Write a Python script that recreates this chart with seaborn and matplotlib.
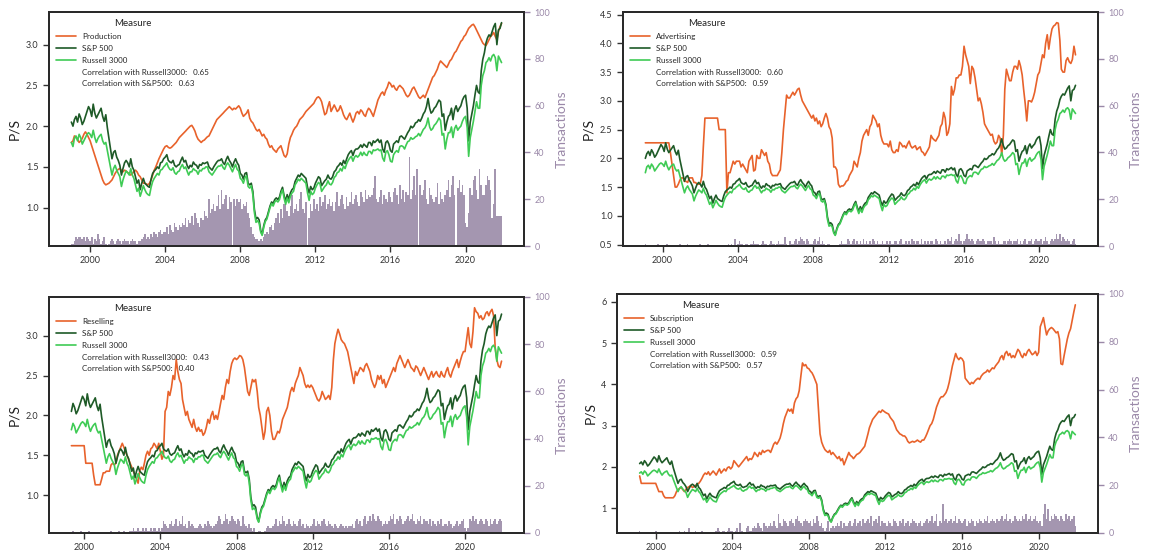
import pandas as pd
import matplotlib
matplotlib.use("Agg")
import matplotlib.pyplot as plt
import matplotlib.dates as mdates
from matplotlib.lines import Line2D
import seaborn as sns

# --- P/S of the two benchmark indices, monthly from 1999-01 to 2021-12 ---
SP500 = [
    2.05, 2.00, 2.08, 2.12, 2.05, 2.15, 2.10, 2.02, 2.06, 2.12, 2.18, 2.24,
    2.20, 2.12, 2.27, 2.16, 2.10, 2.14, 2.18, 2.22, 2.12, 2.06, 2.14, 1.98,
    1.85, 1.72, 1.60, 1.68, 1.70, 1.62, 1.58, 1.52, 1.40, 1.48, 1.55, 1.58,
    1.55, 1.50, 1.60, 1.50, 1.46, 1.38, 1.30, 1.34, 1.22, 1.30, 1.36, 1.30,
    1.28, 1.26, 1.25, 1.35, 1.42, 1.45, 1.47, 1.50, 1.48, 1.55, 1.56, 1.60,
    1.62, 1.65, 1.58, 1.56, 1.55, 1.58, 1.52, 1.50, 1.52, 1.53, 1.58, 1.62,
    1.56, 1.58, 1.52, 1.48, 1.52, 1.50, 1.56, 1.53, 1.52, 1.48, 1.53, 1.52,
    1.55, 1.54, 1.55, 1.56, 1.50, 1.48, 1.46, 1.50, 1.53, 1.56, 1.58, 1.58,
    1.60, 1.55, 1.53, 1.59, 1.63, 1.58, 1.55, 1.50, 1.56, 1.60, 1.55, 1.52,
    1.42, 1.40, 1.35, 1.42, 1.43, 1.30, 1.28, 1.30, 1.20, 0.98, 0.86, 0.88,
    0.85, 0.72, 0.67, 0.78, 0.85, 0.88, 0.95, 1.02, 1.07, 1.05, 1.10, 1.12,
    1.10, 1.13, 1.20, 1.25, 1.15, 1.08, 1.16, 1.10, 1.18, 1.22, 1.24, 1.32,
    1.36, 1.40, 1.38, 1.42, 1.40, 1.38, 1.36, 1.25, 1.18, 1.26, 1.22, 1.24,
    1.30, 1.34, 1.38, 1.36, 1.27, 1.30, 1.33, 1.35, 1.40, 1.36, 1.35, 1.38,
    1.44, 1.46, 1.50, 1.52, 1.55, 1.52, 1.58, 1.54, 1.60, 1.65, 1.68, 1.70,
    1.64, 1.70, 1.72, 1.72, 1.74, 1.77, 1.74, 1.78, 1.76, 1.74, 1.80, 1.80,
    1.76, 1.82, 1.80, 1.82, 1.84, 1.80, 1.83, 1.72, 1.68, 1.80, 1.82, 1.78,
    1.70, 1.68, 1.78, 1.80, 1.82, 1.80, 1.87, 1.88, 1.86, 1.84, 1.88, 1.92,
    1.95, 2.00, 1.98, 2.00, 2.04, 2.05, 2.08, 2.06, 2.10, 2.15, 2.18, 2.24,
    2.34, 2.22, 2.16, 2.18, 2.22, 2.24, 2.28, 2.32, 2.30, 2.12, 2.15, 1.95,
    2.05, 2.12, 2.14, 2.22, 2.08, 2.20, 2.25, 2.18, 2.22, 2.25, 2.32, 2.36,
    2.38, 2.22, 1.82, 2.05, 2.15, 2.25, 2.38, 2.50, 2.42, 2.40, 2.68, 2.82,
    2.90, 3.02, 3.08, 3.12, 3.10, 3.16, 3.22, 3.26, 3.00, 3.18, 3.20, 3.27,
]
R3000 = [
    1.80, 1.75, 1.85, 1.88, 1.82, 1.90, 1.86, 1.78, 1.82, 1.86, 1.90, 1.92,
    1.90, 1.86, 1.95, 1.86, 1.80, 1.85, 1.88, 1.90, 1.82, 1.78, 1.80, 1.70,
    1.60, 1.50, 1.40, 1.48, 1.52, 1.46, 1.42, 1.38, 1.26, 1.34, 1.40, 1.45,
    1.43, 1.40, 1.48, 1.40, 1.36, 1.28, 1.20, 1.24, 1.14, 1.20, 1.27, 1.22,
    1.18, 1.16, 1.15, 1.25, 1.32, 1.36, 1.39, 1.42, 1.40, 1.46, 1.47, 1.50,
    1.52, 1.55, 1.50, 1.47, 1.46, 1.49, 1.43, 1.41, 1.44, 1.45, 1.50, 1.53,
    1.48, 1.50, 1.45, 1.40, 1.44, 1.44, 1.48, 1.46, 1.45, 1.41, 1.46, 1.45,
    1.48, 1.48, 1.50, 1.50, 1.44, 1.42, 1.40, 1.43, 1.46, 1.49, 1.51, 1.51,
    1.53, 1.49, 1.47, 1.52, 1.55, 1.52, 1.48, 1.44, 1.49, 1.53, 1.47, 1.45,
    1.36, 1.34, 1.30, 1.37, 1.39, 1.26, 1.24, 1.27, 1.16, 0.94, 0.82, 0.84,
    0.81, 0.70, 0.66, 0.76, 0.83, 0.86, 0.93, 1.00, 1.05, 1.02, 1.07, 1.09,
    1.07, 1.10, 1.17, 1.22, 1.12, 1.04, 1.12, 1.06, 1.14, 1.18, 1.20, 1.28,
    1.31, 1.35, 1.33, 1.36, 1.34, 1.32, 1.30, 1.18, 1.09, 1.20, 1.16, 1.18,
    1.24, 1.28, 1.31, 1.29, 1.20, 1.23, 1.26, 1.28, 1.33, 1.29, 1.28, 1.31,
    1.37, 1.39, 1.43, 1.44, 1.48, 1.45, 1.51, 1.48, 1.54, 1.58, 1.61, 1.63,
    1.57, 1.62, 1.64, 1.62, 1.64, 1.68, 1.64, 1.68, 1.65, 1.64, 1.69, 1.69,
    1.66, 1.71, 1.70, 1.71, 1.72, 1.70, 1.71, 1.61, 1.57, 1.68, 1.70, 1.65,
    1.57, 1.56, 1.65, 1.68, 1.70, 1.68, 1.75, 1.76, 1.75, 1.72, 1.77, 1.81,
    1.82, 1.86, 1.84, 1.85, 1.87, 1.88, 1.91, 1.88, 1.92, 1.96, 1.98, 2.02,
    2.10, 1.99, 1.95, 1.97, 2.01, 2.03, 2.06, 2.10, 2.07, 1.89, 1.91, 1.72,
    1.84, 1.92, 1.92, 1.99, 1.86, 1.97, 2.01, 1.95, 1.98, 2.00, 2.06, 2.10,
    2.12, 1.98, 1.63, 1.86, 1.96, 2.06, 2.18, 2.30, 2.22, 2.22, 2.50, 2.62,
    2.68, 2.78, 2.80, 2.84, 2.80, 2.86, 2.88, 2.84, 2.68, 2.86, 2.82, 2.78,
]

# --- measure P/S series (monthly, each from its own first month) ---
PRODUCTION = [  # from 1999-01
    1.80, 1.82, 1.88, 1.86, 1.84, 1.80, 1.82, 1.85, 1.90, 1.93, 1.90, 1.86,
    1.82, 1.76, 1.70, 1.64, 1.58, 1.52, 1.46, 1.40, 1.34, 1.30, 1.28, 1.29,
    1.30, 1.32, 1.34, 1.38, 1.42, 1.45, 1.47, 1.48, 1.46, 1.44, 1.46, 1.45,
    1.43, 1.42, 1.40, 1.42, 1.44, 1.46, 1.44, 1.40, 1.38, 1.34, 1.30, 1.30,
    1.29, 1.28, 1.30, 1.34, 1.40, 1.46, 1.50, 1.55, 1.60, 1.64, 1.68, 1.72,
    1.75, 1.76, 1.74, 1.73, 1.74, 1.76, 1.78, 1.80, 1.83, 1.86, 1.88, 1.90,
    1.92, 1.94, 1.96, 1.98, 2.00, 2.01, 1.98, 1.94, 1.88, 1.84, 1.82, 1.80,
    1.82, 1.83, 1.85, 1.87, 1.88, 1.92, 1.96, 2.00, 2.04, 2.08, 2.10, 2.12,
    2.14, 2.16, 2.18, 2.20, 2.22, 2.24, 2.22, 2.20, 2.22, 2.21, 2.23, 2.25,
    2.22, 2.16, 2.12, 2.14, 2.16, 2.20, 2.10, 2.06, 2.04, 2.00, 1.96, 1.94,
    1.96, 1.92, 1.88, 1.90, 1.86, 1.84, 1.78, 1.74, 1.76, 1.72, 1.70, 1.68,
    1.72, 1.74, 1.76, 1.70, 1.64, 1.62, 1.66, 1.78, 1.86, 1.90, 1.95, 1.98,
    2.00, 2.04, 2.08, 2.10, 2.12, 2.15, 2.18, 2.20, 2.22, 2.24, 2.26, 2.28,
    2.32, 2.35, 2.36, 2.34, 2.30, 2.22, 2.14, 2.16, 2.24, 2.30, 2.18, 2.22,
    2.26, 2.22, 2.18, 2.20, 2.25, 2.20, 2.14, 2.10, 2.08, 2.12, 2.16, 2.10,
    2.05, 2.10, 2.16, 2.18, 2.15, 2.20, 2.18, 2.14, 2.12, 2.18, 2.22, 2.20,
    2.16, 2.12, 2.18, 2.25, 2.32, 2.36, 2.40, 2.42, 2.38, 2.44, 2.48, 2.54,
    2.52, 2.48, 2.50, 2.46, 2.44, 2.48, 2.50, 2.48, 2.46, 2.42, 2.38, 2.36,
    2.38, 2.42, 2.46, 2.48, 2.44, 2.40, 2.36, 2.34, 2.36, 2.38, 2.35, 2.40,
    2.45, 2.50, 2.55, 2.60, 2.62, 2.66, 2.70, 2.76, 2.80, 2.78, 2.76, 2.74,
    2.72, 2.76, 2.80, 2.82, 2.86, 2.90, 2.92, 2.96, 3.00, 3.04, 3.06, 3.10,
    3.12, 3.16, 3.20, 3.22, 3.24, 3.25, 3.22, 3.18, 3.14, 3.10, 3.06, 3.02,
    3.00, 2.99, 3.02, 3.06, 3.10, 3.12, 3.15, 3.10, 3.06, 3.16, 3.22, 3.26,
]
ADVERTISING = [  # from 1999-02
    2.27, 2.27, 2.27, 2.27, 2.27, 2.27, 2.27, 2.27, 2.27, 2.27, 2.27,
    2.27, 2.27, 2.27, 2.27, 2.27, 2.10, 1.90, 1.70, 1.50, 1.50, 1.55, 1.62,
    1.66, 1.66, 1.60, 1.60, 1.58, 1.66, 1.66, 1.66, 1.58, 1.58, 1.55, 1.55,
    1.56, 1.70, 2.20, 2.70, 2.70, 2.70, 2.70, 2.70, 2.70, 2.70, 2.70, 2.70,
    2.50, 2.50, 2.50, 2.50, 2.50, 1.40, 1.75, 1.75, 1.85, 1.95, 1.90, 1.95,
    1.95, 1.95, 1.85, 1.90, 1.85, 1.80, 1.75, 1.95, 2.00, 2.05, 1.78, 1.80,
    2.05, 2.00, 2.00, 2.15, 2.10, 2.05, 2.10, 1.95, 1.90, 1.75, 1.70, 1.70,
    1.70, 1.70, 1.75, 1.80, 2.10, 2.50, 2.80, 3.10, 3.05, 3.05, 3.10, 3.15,
    3.10, 3.15, 3.20, 3.22, 3.10, 3.00, 2.95, 2.90, 2.85, 2.80, 2.75, 2.70,
    2.75, 2.65, 2.70, 2.60, 2.65, 2.55, 2.60, 2.70, 2.78, 2.70, 2.55, 2.50,
    2.35, 1.85, 1.85, 1.80, 1.55, 1.50, 1.52, 1.52, 1.55, 1.60, 1.62, 1.70,
    1.75, 1.80, 1.95, 1.90, 1.85, 2.00, 2.10, 2.30, 2.40, 2.45, 2.50, 2.40,
    2.55, 2.60, 2.75, 2.70, 2.65, 2.55, 2.60, 2.40, 2.30, 2.25, 2.25, 2.25,
    2.20, 2.30, 2.15, 2.10, 2.10, 2.15, 2.12, 2.28, 2.25, 2.20, 2.22, 2.18,
    2.25, 2.30, 2.22, 2.18, 2.20, 2.22, 2.15, 2.18, 2.20, 2.12, 2.10, 2.05,
    2.10, 2.15, 2.20, 2.40, 2.35, 2.32, 2.30, 2.35, 2.40, 2.55, 2.60, 2.80,
    2.70, 2.40, 2.45, 2.60, 3.25, 3.10, 3.20, 3.40, 3.40, 3.45, 3.45, 3.60,
    3.95, 3.80, 3.70, 3.60, 3.30, 3.60, 3.55, 3.40, 3.20, 3.00, 3.05, 2.95,
    2.80, 2.60, 2.55, 2.50, 2.45, 2.40, 2.42, 2.30, 2.25, 2.28, 2.40, 2.35,
    2.05, 2.40, 3.20, 3.55, 3.45, 3.35, 3.35, 3.50, 3.60, 3.60, 3.55, 3.70,
    3.60, 3.45, 3.20, 2.95, 2.65, 3.00, 3.00, 2.98, 3.05, 3.15, 3.30, 3.45,
    3.50, 3.65, 3.80, 3.75, 4.00, 4.15, 3.90, 4.10, 4.25, 4.30, 4.32, 4.36,
    4.35, 4.05, 3.55, 3.50, 3.50, 3.70, 3.75, 3.68, 3.65, 3.72, 3.95, 3.80,
]
RESELLING = [  # from 1999-05
    1.62, 1.62, 1.62, 1.62, 1.62, 1.62, 1.62, 1.62,
    1.62, 1.40, 1.40, 1.40, 1.40, 1.40, 1.25, 1.13, 1.13, 1.13, 1.13, 1.20,
    1.28, 1.28, 1.30, 1.30, 1.30, 1.38, 1.40, 1.38, 1.40, 1.50, 1.55, 1.60,
    1.65, 1.60, 1.55, 1.50, 1.45, 1.40, 1.35, 1.30, 1.25, 1.20, 1.15, 1.30,
    1.35, 1.32, 1.40, 1.50, 1.55, 1.50, 1.58, 1.60, 1.65, 1.62, 1.58, 1.65,
    1.55, 1.45, 1.50, 2.05, 2.10, 2.30, 2.25, 2.35, 2.50, 2.45, 2.70, 2.55,
    2.45, 2.40, 2.20, 2.10, 2.00, 2.05, 1.95, 1.90, 1.85, 1.95, 1.85, 1.80,
    1.85, 1.80, 1.82, 1.75, 1.78, 1.85, 1.95, 1.90, 2.00, 2.05, 1.95, 2.00,
    1.95, 2.05, 2.15, 2.25, 2.20, 2.35, 2.45, 2.40, 2.55, 2.65, 2.70, 2.72,
    2.70, 2.72, 2.75, 2.74, 2.70, 2.60, 2.45, 2.30, 2.25, 2.35, 2.45, 2.42,
    2.45, 2.30, 2.10, 2.00, 1.85, 1.70, 1.80, 2.05, 2.10, 2.00, 1.80, 1.70,
    1.70, 1.75, 1.80, 1.78, 1.85, 1.95, 2.00, 2.05, 2.10, 2.20, 2.30, 2.35,
    2.30, 2.40, 2.45, 2.50, 2.60, 2.55, 2.50, 2.40, 2.35, 2.38, 2.35, 2.38,
    2.35, 2.30, 2.25, 2.20, 2.18, 2.22, 2.30, 2.25, 2.20, 2.22, 2.25, 2.20,
    2.35, 2.70, 2.90, 3.00, 3.08, 3.02, 2.95, 2.92, 2.90, 2.85, 2.80, 2.70,
    2.60, 2.50, 2.40, 2.55, 2.50, 2.55, 2.60, 2.58, 2.55, 2.62, 2.65, 2.60,
    2.55, 2.45, 2.40, 2.35, 2.40, 2.50, 2.45, 2.50, 2.40, 2.45, 2.35, 2.40,
    2.45, 2.50, 2.55, 2.60, 2.55, 2.65, 2.70, 2.75, 2.70, 2.65, 2.60, 2.65,
    2.70, 2.65, 2.60, 2.58, 2.55, 2.62, 2.60, 2.55, 2.50, 2.55, 2.60, 2.55,
    2.50, 2.45, 2.50, 2.55, 2.48, 2.52, 2.55, 2.50, 2.48, 2.55, 2.50, 2.48,
    2.55, 2.60, 2.52, 2.48, 2.55, 2.60, 2.65, 2.70, 2.60, 2.68, 2.75, 2.80,
    2.80, 2.95, 3.10, 2.90, 2.85, 3.05, 3.35, 3.30, 3.28, 3.22, 3.25, 3.20,
    3.22, 3.28, 3.30, 3.25, 3.30, 3.33, 3.25, 2.85, 2.70, 2.62, 2.60, 2.68,
]
SUBSCRIPTION = [  # from 1999-03
    1.78, 1.60, 1.60, 1.60, 1.60, 1.60, 1.60, 1.60, 1.60, 1.60,
    1.60, 1.50, 1.40, 1.40, 1.40, 1.30, 1.25, 1.25, 1.25, 1.25, 1.25, 1.25,
    1.30, 1.40, 1.45, 1.48, 1.50, 1.45, 1.40, 1.45, 1.50, 1.52, 1.55, 1.50,
    1.52, 1.55, 1.58, 1.60, 1.65, 1.72, 1.80, 1.85, 1.82, 1.88, 1.80, 1.85,
    1.90, 1.85, 1.80, 1.88, 1.95, 1.85, 1.90, 1.95, 1.90, 1.98, 2.00, 1.95,
    2.00, 2.15, 2.10, 2.05, 2.00, 2.05, 2.10, 2.15, 2.20, 2.25, 2.15, 2.20,
    2.18, 2.25, 2.35, 2.30, 2.25, 2.35, 2.30, 2.40, 2.35, 2.38, 2.40, 2.40,
    2.35, 2.45, 2.55, 2.60, 2.55, 2.62, 2.70, 2.85, 3.05, 3.20, 3.30, 3.40,
    3.35, 3.40, 3.30, 3.55, 3.65, 3.70, 3.85, 4.20, 4.52, 4.45, 4.48, 4.40,
    4.38, 4.32, 4.28, 4.20, 4.10, 4.00, 3.40, 2.80, 2.60, 2.50, 2.42, 2.38,
    2.35, 2.40, 2.30, 2.35, 2.30, 2.25, 2.20, 2.25, 2.15, 2.20, 2.05, 2.15,
    2.25, 2.35, 2.28, 2.25, 2.20, 2.25, 2.30, 2.32, 2.35, 2.40, 2.45, 2.50,
    2.65, 2.80, 2.95, 3.05, 3.15, 3.20, 3.25, 3.30, 3.35, 3.32, 3.38, 3.35,
    3.32, 3.30, 3.28, 3.20, 3.15, 3.10, 3.00, 2.90, 2.85, 2.80, 2.78, 2.75,
    2.75, 2.70, 2.62, 2.58, 2.60, 2.62, 2.60, 2.62, 2.65, 2.62, 2.60, 2.65,
    2.65, 2.72, 2.80, 2.90, 3.00, 3.05, 3.15, 3.30, 3.45, 3.55, 3.65, 3.70,
    3.70, 3.75, 3.80, 3.90, 4.05, 4.25, 4.45, 4.60, 4.75, 4.65, 4.60, 4.65,
    4.62, 4.55, 4.15, 4.10, 4.05, 4.00, 4.05, 4.02, 4.08, 4.12, 4.15, 4.12,
    4.20, 4.25, 4.28, 4.30, 4.35, 4.30, 4.35, 4.40, 4.38, 4.45, 4.50, 4.55,
    4.65, 4.70, 4.60, 4.75, 4.80, 4.70, 4.75, 4.65, 4.70, 4.65, 4.75, 4.85,
    4.80, 4.70, 4.65, 4.75, 4.70, 4.80, 4.85, 4.78, 4.72, 4.75, 4.80, 4.70,
    4.78, 5.40, 5.50, 5.62, 5.40, 5.20, 5.30, 5.35, 5.38, 5.35, 5.30, 5.25,
    5.28, 5.10, 4.50, 4.48, 4.70, 4.90, 5.10, 5.25, 5.35, 5.55, 5.75, 5.93,
]

# --- monthly transaction counts, same first month as the measure ---
TX_PRODUCTION = [
    1, 1, 2, 4, 3, 4, 4, 3, 4, 2, 4, 3,
    2, 4, 1, 3, 2, 5, 3, 1, 2, 4, 1, 0,
    1, 2, 3, 2, 1, 2, 3, 2, 1, 2, 3, 2,
    2, 1, 2, 3, 2, 2, 1, 2, 2, 3, 4, 5,
    3, 4, 3, 5, 4, 6, 5, 4, 6, 7, 5, 6,
    6, 8, 5, 9, 7, 6, 10, 8, 7, 9, 8, 10,
    9, 12, 8, 11, 10, 13, 9, 14, 12, 10, 8, 12,
    11, 15, 13, 12, 20, 14, 16, 18, 15, 17, 22, 16,
    24, 18, 20, 22, 16, 21, 19, 0, 20, 17, 20, 19,
    20, 16, 18, 17, 19, 14, 12, 8, 5, 4, 3, 3,
    2, 3, 2, 4, 5, 6, 5, 8, 9, 7, 10, 12,
    14, 10, 16, 12, 18, 20, 15, 13, 17, 22, 14, 16,
    18, 15, 20, 23, 16, 14, 19, 0, 12, 18, 15, 20,
    16, 18, 15, 21, 17, 19, 22, 16, 18, 20, 17, 19,
    15, 19, 23, 17, 20, 22, 18, 16, 21, 17, 19, 23,
    18, 20, 22, 19, 17, 23, 21, 19, 24, 20, 22, 21,
    22, 25, 30, 20, 19, 21, 24, 18, 22, 20, 19, 23,
    21, 19, 23, 25, 22, 18, 26, 20, 24, 19, 23, 22,
    38, 20, 24, 30, 22, 33, 0, 26, 22, 24, 28, 20,
    18, 25, 22, 20, 19, 21, 27, 18, 23, 20, 19, 22,
    24, 28, 21, 26, 30, 22, 0, 25, 28, 23, 26, 22,
    10, 8, 14, 25, 22, 28, 30, 24, 20, 33, 26, 22,
    22, 26, 30, 28, 24, 12, 18, 33, 13, 13, 13, 13,
]
TX_ADVERTISING = [
    1, 0, 0, 0, 0, 0, 0, 0, 1, 0, 0,
    0, 0, 0, 1, 0, 0, 0, 0, 0, 0, 0, 1,
    0, 0, 0, 0, 1, 0, 0, 0, 0, 0, 0, 0,
    1, 0, 0, 0, 0, 1, 0, 0, 0, 0, 0, 0,
    0, 0, 0, 0, 0, 0, 1, 0, 1, 0, 3, 0,
    1, 2, 1, 1, 0, 1, 1, 0, 1, 1, 2, 1,
    1, 1, 0, 1, 2, 1, 1, 0, 1, 2, 1, 1,
    0, 1, 2, 1, 1, 1, 4, 1, 0, 2, 1, 1,
    2, 3, 1, 2, 4, 3, 2, 1, 3, 2, 1, 1,
    2, 3, 1, 2, 4, 1, 2, 1, 0, 1, 1, 0,
    0, 0, 0, 0, 0, 1, 2, 1, 1, 1, 3, 2,
    1, 2, 3, 1, 2, 1, 2, 1, 3, 1, 2, 1,
    2, 1, 3, 2, 1, 2, 1, 1, 2, 1, 1, 2,
    1, 2, 1, 1, 2, 2, 1, 2, 3, 1, 1, 2,
    1, 2, 1, 3, 2, 1, 2, 2, 1, 3, 1, 2,
    1, 2, 1, 2, 2, 1, 3, 2, 1, 2, 1, 1,
    2, 1, 3, 2, 4, 1, 2, 3, 2, 5, 2, 1,
    2, 3, 5, 3, 2, 3, 2, 1, 2, 3, 2, 2,
    3, 2, 1, 2, 2, 2, 1, 4, 2, 1, 2, 1,
    1, 2, 2, 1, 2, 3, 2, 1, 2, 2, 3, 1,
    2, 1, 2, 3, 1, 2, 2, 3, 1, 2, 3, 2,
    2, 3, 1, 2, 4, 2, 1, 2, 3, 2, 3, 5,
    3, 5, 2, 4, 3, 2, 3, 2, 1, 2, 3, 1,
]
TX_RESELLING = [
    0, 1, 0, 0, 0, 0, 1, 0,
    0, 0, 0, 1, 0, 0, 0, 0, 0, 0, 0, 0,
    0, 0, 0, 0, 0, 1, 0, 0, 0, 0, 1, 0,
    0, 1, 0, 0, 0, 1, 1, 2, 1, 1, 2, 1,
    1, 2, 1, 2, 1, 1, 2, 1, 2, 2, 1, 2,
    1, 2, 5, 4, 3, 2, 4, 5, 3, 4, 6, 3,
    5, 4, 7, 3, 4, 2, 5, 3, 4, 3, 2, 2,
    3, 4, 3, 2, 4, 3, 5, 4, 3, 2, 3, 4,
    5, 7, 6, 4, 5, 8, 6, 4, 5, 7, 6, 5,
    4, 6, 5, 3, 7, 4, 3, 2, 4, 2, 1, 2,
    0, 0, 1, 1, 0, 0, 1, 2, 3, 2, 2, 3,
    4, 6, 3, 5, 4, 7, 5, 3, 4, 6, 4, 3,
    5, 4, 3, 5, 6, 3, 4, 2, 4, 3, 2, 3,
    4, 6, 3, 5, 4, 3, 5, 6, 4, 3, 5, 4,
    3, 2, 4, 3, 2, 3, 4, 3, 2, 3, 2, 3,
    3, 4, 2, 5, 6, 4, 5, 3, 6, 7, 4, 5,
    7, 5, 8, 6, 5, 7, 6, 5, 3, 4, 5, 4,
    5, 7, 6, 8, 4, 6, 5, 7, 6, 4, 5, 6,
    7, 5, 6, 8, 5, 4, 6, 5, 7, 4, 6, 5,
    5, 4, 6, 3, 5, 4, 3, 5, 4, 6, 3, 4,
    4, 3, 5, 4, 2, 3, 4, 5, 3, 4, 5, 6,
    2, 1, 2, 6, 5, 7, 5, 6, 4, 5, 6, 5,
    4, 6, 5, 3, 6, 4, 5, 6, 4, 5, 6, 5,
]
TX_SUBSCRIPTION = [
    1, 0, 0, 0, 0, 0, 0, 0, 0, 0,
    1, 0, 0, 0, 0, 0, 0, 0, 0, 0, 0, 0,
    0, 0, 0, 1, 0, 0, 1, 0, 0, 2, 0, 0,
    0, 1, 0, 0, 0, 1, 0, 0, 0, 0, 0, 0,
    0, 0, 1, 2, 1, 0, 1, 1, 0, 1, 2, 1,
    1, 0, 1, 2, 0, 4, 1, 0, 0, 2, 3, 1,
    1, 2, 3, 2, 4, 3, 2, 1, 4, 3, 2, 3,
    4, 3, 5, 3, 2, 8, 4, 3, 6, 5, 4, 3,
    5, 6, 4, 3, 6, 7, 5, 4, 3, 5, 6, 5,
    4, 5, 3, 6, 4, 7, 5, 3, 4, 2, 1, 2,
    5, 1, 2, 3, 2, 3, 4, 3, 5, 2, 4, 3,
    3, 4, 5, 3, 4, 6, 3, 4, 5, 3, 6, 4,
    5, 6, 4, 7, 3, 5, 6, 4, 7, 3, 5, 4,
    4, 3, 5, 4, 3, 6, 5, 4, 3, 5, 4, 6,
    3, 4, 5, 3, 4, 6, 5, 4, 3, 4, 5, 3,
    4, 5, 6, 4, 5, 7, 4, 5, 8, 3, 5, 4,
    12, 5, 6, 4, 5, 6, 4, 5, 7, 4, 6, 5,
    4, 5, 6, 3, 5, 4, 6, 5, 3, 5, 4, 6,
    5, 4, 6, 5, 7, 4, 5, 6, 5, 4, 6, 5,
    6, 7, 5, 6, 8, 5, 6, 4, 5, 7, 6, 5,
    6, 5, 7, 6, 8, 5, 6, 7, 5, 6, 7, 5,
    4, 5, 3, 8, 12, 6, 10, 5, 7, 6, 8, 7,
    6, 5, 7, 6, 5, 8, 6, 7, 5, 6, 7, 3,
]

PANELS = [
    ("Production", "1999-01-01", PRODUCTION, TX_PRODUCTION, "0.65", "0.63"),
    ("Advertising", "1999-02-01", ADVERTISING, TX_ADVERTISING, "0.60", "0.59"),
    ("Reselling", "1999-05-01", RESELLING, TX_RESELLING, "0.43", "0.40"),
    ("Subscription", "1999-03-01", SUBSCRIPTION, TX_SUBSCRIPTION, "0.59", "0.57"),
]

# axes boxes in figure fractions (left, bottom, width, height)
BOXES = [
    (0.0426, 0.5535, 0.4130, 0.4247),
    (0.5417, 0.5535, 0.4130, 0.4247),
    (0.0426, 0.0327, 0.4130, 0.4283),
    (0.5365, 0.0327, 0.4183, 0.4338),
]

ORANGE = "#e8622b"
DARK_GREEN = "#1e5a27"
LIGHT_GREEN = "#3fcb55"
BAR_COLOR = "#a496b0"
TX_COLOR = "#9a88a8"
SPINE = "#2a2a2a"

sns.set_theme(style="ticks")
plt.rcParams["font.family"] = ["Lato", "DejaVu Sans"]


def draw_panel(fig, box, name, start, measure, tx, corr_r, corr_s):
    ax = fig.add_axes(box)
    ax2 = ax.twinx()

    n = len(measure)
    i0 = len(SP500) - n
    dates = pd.date_range(start, periods=n, freq="MS")
    wide = pd.DataFrame({
        "date": dates,
        name: measure,
        "S&P 500": SP500[i0:],
        "Russell 3000": R3000[i0:],
    })
    long = wide.melt(id_vars="date", var_name="Measure", value_name="P/S")

    # transactions in the back, on the right axis
    ax2.bar(dates, tx, width=31, color=BAR_COLOR, linewidth=0)
    ax2.set_ylim(0, 100)
    ax2.set_yticks([0, 20, 40, 60, 80, 100])
    ax2.set_ylabel("Transactions", color=TX_COLOR, fontsize=10)
    ax2.tick_params(axis="y", colors=TX_COLOR, labelsize=6.5, length=4, width=1)

    sns.lineplot(data=long, x="date", y="P/S", hue="Measure",
                 palette=[ORANGE, DARK_GREEN, LIGHT_GREEN],
                 linewidth=1.2, ax=ax)
    ax.set_zorder(ax2.get_zorder() + 1)
    ax.patch.set_visible(False)

    ax.set_xlabel("")
    ax.set_ylabel("P/S", fontsize=10, color="#222222")
    ax.xaxis.set_major_locator(mdates.YearLocator(4))
    ax.xaxis.set_major_formatter(mdates.DateFormatter("%Y"))
    ax.tick_params(labelsize=6.5, length=4, width=1, colors="#333333")

    for a in (ax, ax2):
        for sp in a.spines.values():
            sp.set_visible(True)
            sp.set_linewidth(1.4)
            sp.set_color(SPINE)

    handles, labels = ax.get_legend_handles_labels()
    blank = Line2D([], [], color="none")
    handles += [blank, blank]
    labels += [f"Correlation with Russell3000:   {corr_r}",
               f"Correlation with S&P500:   {corr_s}"]
    leg = ax.legend(handles, labels, title="Measure", loc="upper left",
                    frameon=False, fontsize=5.8, title_fontsize=7,
                    labelspacing=0.6, handlelength=2.4)
    leg.get_title().set_color("#222222")


fig = plt.figure(figsize=(11.5, 5.51), dpi=100)
for box, (name, start, measure, tx, cr, cs) in zip(BOXES, PANELS):
    draw_panel(fig, box, name, start, measure, tx, cr, cs)

fig.savefig("out.png", dpi=100)
